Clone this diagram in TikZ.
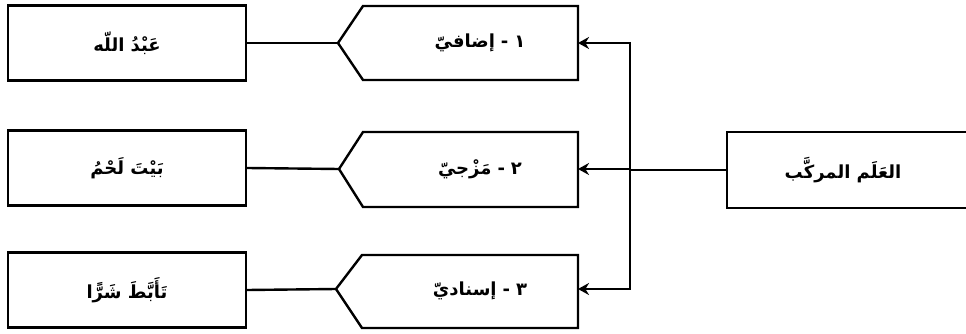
\documentclass[tikz,border=0pt]{standalone}
\usepackage{fontspec}
\usetikzlibrary{arrows.meta}
\TeXXeTstate=1
\newfontfamily\arabicfont[Script=Arabic]{DejaVu Sans}
\tikzset{
  lw/.style={line width=2.4pt},
  leftbox/.style={draw, lw, minimum width=238pt, minimum height=75pt, inner sep=0pt},
  lbl/.style={font=\arabicfont\bfseries\fontsize{18}{21}\selectfont, inner sep=0pt},
  conn/.style={lw},
  arr/.style={lw, -{Stealth[length=11pt,width=12pt]}}
}
\newcommand{\gapx}{\hspace{6pt}}
\begin{document}
\begin{tikzpicture}[x=1pt,y=-1pt]
\useasboundingbox (0,0) rectangle (966,334);
% left boxes
\node[leftbox] (l1) at (127,43) {};
\node[lbl] at (l1) {\beginR عَبْدُ اللّه\endR};
\node[leftbox] (l2) at (127,168) {};
\node[lbl] at (l2) {\beginR بَيْتَ لَحْمُ\endR};
\node[leftbox] (l3) at (127,290) {};
\node[lbl] at (l3) {\beginR تَأَبَّطَ شَرًّا\endR};
% middle pentagons
\coordinate (m1w) at (338,43); \coordinate (m1e) at (578,43);
\draw[lw, line join=miter] (m1w) -- (363,6) -- (578,6) -- (578,80) -- (363,80) -- cycle;
\node[lbl] (m1) at (480,43) {\beginR ١\gapx-\gapx إضافيّ\endR};
\coordinate (m2w) at (339,169); \coordinate (m2e) at (578,169);
\draw[lw, line join=miter] (m2w) -- (363,132) -- (578,132) -- (578,207) -- (363,207) -- cycle;
\node[lbl] (m2) at (480,169) {\beginR ٢\gapx-\gapx مَزْجيّ\endR};
\coordinate (m3w) at (336,289); \coordinate (m3e) at (578,289);
\draw[lw, line join=miter] (m3w) -- (362,255) -- (578,255) -- (578,328) -- (362,328) -- cycle;
\node[lbl] (m3) at (480,291) {\beginR ٣\gapx-\gapx إسناديّ\endR};
% main box (open to the right)
\coordinate (mainw) at (727,170);
\draw[lw] (975,132) -- (727,132) -- (727,208) -- (975,208);
\node[lbl] (main) at (843,170) {\beginR العَلَم المركَّب\endR};
% connectors left
\draw[conn] (l1.east) -- (m1w);
\draw[conn] (l2.east) -- (m2w);
\draw[conn] (l3.east) -- (m3w);
% trunk
\coordinate (v1) at (630,43);
\coordinate (v2) at (630,169);
\coordinate (v3) at (630,289);
\draw[conn] (630,41.8) -- (630,290.2);
\draw[conn] (mainw) -- (630,170);
\draw[arr] (v1) -- (m1e);
\draw[arr] (v2) -- (m2e);
\draw[arr] (v3) -- (m3e);
\end{tikzpicture}
\end{document}
